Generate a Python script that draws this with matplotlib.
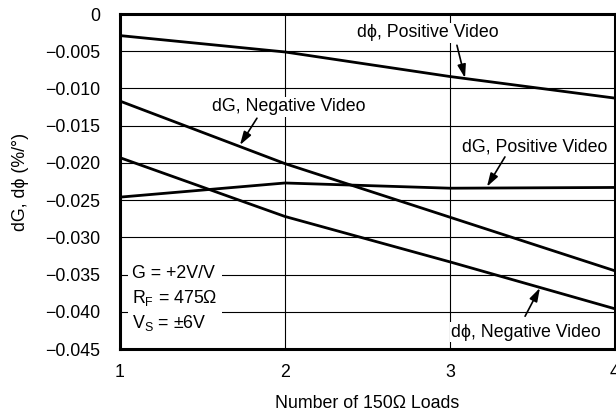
import matplotlib
matplotlib.use("Agg")
import matplotlib.pyplot as plt

plt.rcParams['font.family'] = ['Liberation Sans', 'DejaVu Sans']
plt.rcParams['mathtext.fontset'] = 'custom'
plt.rcParams['mathtext.rm'] = 'Liberation Sans'

loads = [1, 2, 3, 4]
dphi_pos = [-0.0029, -0.0051, -0.0084, -0.0113]
dg_neg = [-0.0117, -0.0201, -0.0273, -0.0345]
dphi_neg = [-0.0193, -0.0272, -0.0333, -0.0396]
dg_pos = [-0.0246, -0.0227, -0.0234, -0.0233]

yticks = [0, -0.005, -0.010, -0.015, -0.020, -0.025, -0.030, -0.035, -0.040, -0.045]
ytick_labels = ['0'] + ['\u2212%.3f' % abs(v) for v in yticks[1:]]

fs = 12.8
fig = plt.figure(figsize=(6.16, 4.18), dpi=100)
ax = fig.add_axes([120 / 616, 1 - 349 / 418, 495 / 616, 335 / 418])

for ys in (dphi_pos, dg_neg, dphi_neg, dg_pos):
    ax.plot(loads, ys, color='black', lw=2.0, zorder=3, solid_capstyle='butt')

ax.set_xlim(1, 4)
ax.set_ylim(-0.045, 0)
ax.set_xticks(loads)
ax.set_xticklabels([str(v) for v in loads], fontsize=fs)
ax.set_yticks(yticks)
ax.set_yticklabels(ytick_labels, fontsize=fs)
ax.tick_params(length=0)
ax.tick_params(axis='y', pad=14)
ax.tick_params(axis='x', pad=11)
ax.grid(True, color='black', lw=0.8, zorder=1)
ax.set_axisbelow(True)
for s in ax.spines.values():
    s.set_linewidth(2.2)
    s.set_zorder(5)

ax.set_xlabel('Number of 150\u03a9 Loads', fontsize=fs, labelpad=10)
ax.set_ylabel('dG, d\u03d5 (%/\u00b0)', fontsize=fs, labelpad=12)

box = dict(facecolor='white', edgecolor='none', pad=1.0)
arrow = dict(arrowstyle='-|>,head_length=0.8,head_width=0.25', color='black',
             lw=1.2, shrinkA=0, shrinkB=0)

notes = [
    ('d\u03d5, Positive Video', (2.867, -0.00255), (3.042, -0.0042), (3.091, -0.0086)),
    ('dG, Negative Video', (2.024, -0.01249), (1.830, -0.0140), (1.727, -0.0176)),
    ('dG, Positive Video', (3.515, -0.01787), (3.333, -0.0192), (3.224, -0.0232)),
    ('d\u03d5, Negative Video', (3.461, -0.04272), (3.455, -0.0406), (3.545, -0.0368)),
]
for label, txy, tail, head in notes:
    ax.text(txy[0], txy[1], label, fontsize=fs, ha='center', va='center',
            bbox=box, zorder=4)
    ax.annotate('', xy=head, xytext=tail, arrowprops=arrow, zorder=4)

ax.text(1.073, -0.0383,
        'G = +2V/V\nR$_\\mathregular{F}$ = 475\u03a9\nV$_\\mathregular{S}$ = \u00b16V',
        fontsize=fs, ha='left', va='center', linespacing=1.35,
        bbox=dict(facecolor='white', edgecolor='none', pad=3), zorder=4)

fig.savefig('out.png', dpi=100)
